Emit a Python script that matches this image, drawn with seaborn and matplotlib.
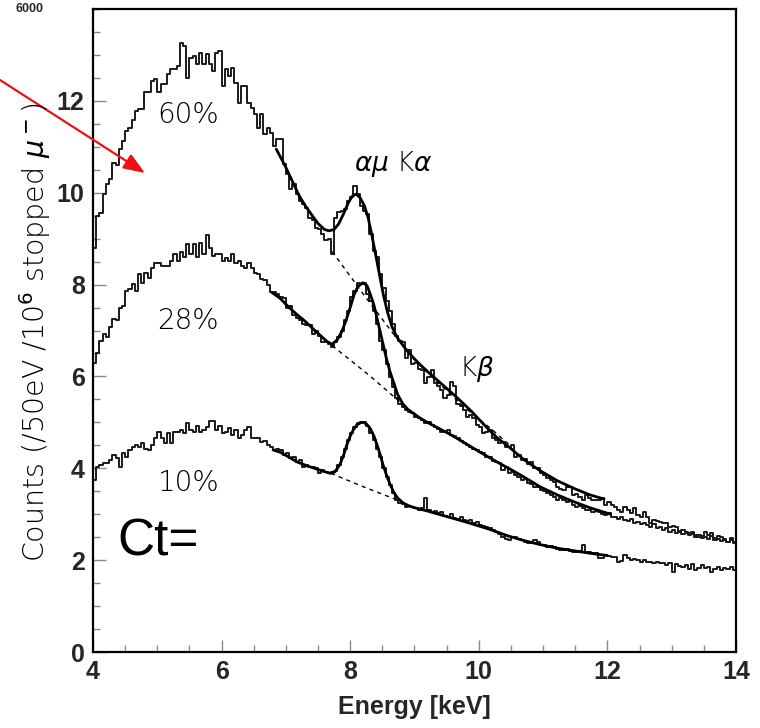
import numpy as np
import pandas as pd
import matplotlib
matplotlib.use("Agg")
import matplotlib.pyplot as plt
import seaborn as sns

# ---------------- data ----------------
BIN_START = 4.0      # keV
BIN_WIDTH = 0.05     # keV (50 eV bins)

h60 = [
    8.8, 9.5, 9.55, 9.98, 10.2, 10.3, 10.65, 10.6, 10.96, 11.13, 11.35, 11.41, 11.59, 11.78, 11.83, 11.83, 12.2, 12.2, 12.43, 12.48,
    12.2, 12.37, 12.37, 12.59, 12.7, 12.7, 12.76, 13.26, 13.2, 12.5, 12.93, 12.98, 12.8, 13.04, 12.8, 13.02, 12.8, 12.65, 13.04, 13.09,
    12.33, 12.7, 12.55, 12.72, 12.39, 11.96, 12.33, 12.33, 11.96, 11.85, 11.72, 11.41, 11.72, 11.28, 11.41, 11.3, 11.02, 11.17, 11.17, 10.63,
    10.41, 10.09, 10.2, 9.98, 9.83, 9.76, 9.67, 9.46, 9.4, 9.24, 9.2, 9.1, 8.96, 9.0, 8.67, 9.46, 9.57, 9.6, 9.65, 9.83,
    9.9, 10.15, 9.98, 9.72, 9.6, 9.54, 9.1, 8.74, 8.59, 8.24, 7.93, 7.65, 7.43, 7.15, 6.89, 6.78, 6.75, 6.41, 6.57, 6.28,
    6.3, 6.17, 6.15, 5.85, 5.98, 6.13, 5.85, 5.8, 5.7, 5.54, 5.6, 5.87, 5.8, 5.41, 5.35, 5.26, 5.11, 5.15, 5.09, 4.95,
    4.89, 4.76, 4.8, 4.83, 4.67, 4.61, 4.54, 4.57, 4.46, 4.46, 4.5, 4.24, 4.3, 4.17, 4.2, 4.1, 4.13, 4.0, 4.0, 3.89,
    3.85, 3.78, 3.74, 3.7, 3.59, 3.55, 3.52, 3.6, 3.59, 3.41, 3.45, 3.37, 3.3, 3.41, 3.35, 3.3, 3.3, 3.3, 3.35, 3.2,
    3.26, 3.2, 3.15, 3.09, 3.04, 3.15, 3.1, 3.02, 3.13, 2.98, 2.93, 3.04, 2.95, 2.8, 2.87, 2.85, 2.83, 2.8, 2.8, 2.72,
    2.75, 2.72, 2.61, 2.65, 2.61, 2.59, 2.62, 2.54, 2.5, 2.52, 2.61, 2.55, 2.59, 2.48, 2.52, 2.5, 2.44, 2.39, 2.48, 2.4,
]

h28 = [
    6.3, 6.52, 6.78, 6.93, 6.85, 7.07, 7.26, 7.22, 7.48, 7.54, 7.87, 7.91, 8.02, 7.87, 8.24, 8.04, 8.26, 8.15, 8.37, 8.46,
    8.46, 8.41, 8.41, 8.41, 8.52, 8.67, 8.52, 8.7, 8.59, 8.89, 8.67, 8.89, 8.6, 8.91, 8.67, 9.07, 8.8, 8.63, 8.67, 8.67,
    8.52, 8.57, 8.52, 8.67, 8.48, 8.52, 8.41, 8.37, 8.48, 8.35, 8.26, 8.24, 8.13, 8.09, 7.98, 7.83, 7.83, 7.8, 7.72, 7.7,
    7.5, 7.54, 7.33, 7.28, 7.22, 7.15, 7.11, 7.11, 6.93, 7.0, 6.89, 6.74, 6.74, 6.7, 6.63, 6.74, 6.85, 7.0, 7.22, 7.43,
    7.72, 7.87, 8.04, 8.02, 8.04, 7.8, 7.65, 7.43, 7.15, 6.78, 6.57, 6.28, 5.98, 5.76, 5.54, 5.41, 5.33, 5.26, 5.22, 5.2,
    5.11, 5.09, 5.05, 4.98, 5.0, 4.95, 4.89, 4.85, 4.78, 4.8, 4.83, 4.72, 4.7, 4.65, 4.6, 4.54, 4.5, 4.46, 4.42, 4.39,
    4.36, 4.33, 4.25, 4.24, 4.15, 4.13, 4.11, 3.96, 4.02, 3.89, 3.92, 3.85, 3.8, 3.74, 3.76, 3.67, 3.65, 3.59, 3.6, 3.52,
    3.5, 3.46, 3.42, 3.38, 3.3, 3.35, 3.3, 3.26, 3.28, 3.2, 3.15, 3.18, 3.13, 3.1, 3.09, 3.04, 3.06, 3.04, 3.0, 2.98,
    3.02, 2.93, 2.95, 2.9, 2.93, 2.88, 2.85, 2.9, 2.8, 2.84, 2.78, 2.8, 2.76, 2.72, 2.78, 2.7, 2.72, 2.66, 2.7, 2.62,
    2.66, 2.6, 2.63, 2.56, 2.6, 2.54, 2.57, 2.5, 2.55, 2.48, 2.5, 2.46, 2.52, 2.44, 2.47, 2.42, 2.46, 2.4, 2.44, 2.38,
]

h10 = [
    3.74, 4.02, 4.07, 4.11, 4.11, 4.17, 4.28, 4.22, 4.02, 4.33, 4.24, 4.39, 4.46, 4.5, 4.46, 4.54, 4.43, 4.39, 4.5, 4.67,
    4.78, 4.67, 4.54, 4.76, 4.54, 4.78, 4.78, 4.83, 4.76, 4.98, 4.83, 4.78, 4.93, 4.78, 4.83, 4.89, 5.04, 5.04, 4.83, 4.93,
    4.76, 4.78, 4.87, 4.72, 4.83, 4.67, 4.72, 4.83, 4.89, 4.67, 4.65, 4.67, 4.57, 4.6, 4.5, 4.46, 4.39, 4.43, 4.39, 4.28,
    4.33, 4.22, 4.25, 4.13, 4.17, 4.02, 4.07, 4.02, 4.02, 4.0, 3.89, 3.96, 3.92, 3.89, 3.91, 3.95, 4.07, 4.24, 4.43, 4.61,
    4.76, 4.89, 4.98, 5.0, 5.0, 4.93, 4.76, 4.61, 4.43, 4.24, 4.0, 3.8, 3.63, 3.46, 3.3, 3.24, 3.22, 3.15, 3.17, 3.15,
    3.13, 3.1, 3.13, 3.35, 3.09, 3.05, 3.07, 3.02, 3.04, 2.97, 2.95, 3.0, 2.92, 2.9, 2.93, 2.87, 2.85, 2.87, 2.8, 2.82,
    2.76, 2.74, 2.72, 2.7, 2.65, 2.61, 2.58, 2.5, 2.46, 2.43, 2.5, 2.5, 2.45, 2.43, 2.4, 2.37, 2.37, 2.43, 2.4, 2.33,
    2.32, 2.28, 2.3, 2.28, 2.25, 2.22, 2.22, 2.25, 2.2, 2.17, 2.17, 2.2, 2.33, 2.17, 2.17, 2.15, 2.15, 2.04, 2.04, 2.12,
    2.1, 2.07, 2.07, 1.96, 1.98, 2.11, 2.05, 2.0, 2.02, 2.0, 1.97, 2.0, 1.95, 1.96, 1.93, 1.96, 1.93, 1.93, 1.9, 1.93,
    1.74, 1.92, 1.88, 1.85, 1.9, 1.8, 1.92, 1.78, 1.83, 1.9, 1.82, 1.85, 1.74, 1.8, 1.85, 1.78, 1.82, 1.8, 1.85, 1.78,
]

# fitted curves (peak + background)
fit60_x = [6.85, 7.0, 7.1, 7.2, 7.3, 7.4, 7.5, 7.6, 7.67, 7.75, 7.82, 7.9, 7.97, 8.03, 8.09, 8.15, 8.22, 8.28,
           8.34, 8.4, 8.46, 8.52, 8.58, 8.65, 8.73, 8.85, 8.98, 9.1, 9.24, 9.37, 9.5, 9.63, 9.76, 9.9, 10.02,
           10.15, 10.28, 10.49, 10.69, 10.95, 11.22, 11.5, 11.73, 11.95]
fit60_y = [10.95, 10.55, 10.25, 9.95, 9.72, 9.52, 9.33, 9.2, 9.17, 9.2, 9.32, 9.55, 9.78, 9.92, 9.97, 9.9, 9.72, 9.45,
           9.05, 8.62, 8.18, 7.75, 7.4, 7.08, 6.85, 6.62, 6.41, 6.24, 6.06, 5.9, 5.74, 5.58, 5.41, 5.22, 5.04,
           4.85, 4.67, 4.44, 4.2, 3.95, 3.73, 3.55, 3.42, 3.33]

fit28_x = [6.78, 6.91, 7.05, 7.17, 7.3, 7.42, 7.53, 7.64, 7.72, 7.8, 7.87, 7.93, 8.0, 8.06, 8.12, 8.2, 8.26, 8.31,
           8.37, 8.42, 8.47, 8.52, 8.57, 8.62, 8.68, 8.74, 8.82, 8.9, 8.98, 9.1, 9.24, 9.5, 9.76, 10.02, 10.28,
           10.49, 10.69, 10.95, 11.22, 11.5, 11.73, 12.05]
fit28_y = [7.83, 7.7, 7.5, 7.35, 7.2, 7.04, 6.9, 6.76, 6.7, 6.8, 6.98, 7.2, 7.5, 7.78, 7.96, 8.04, 7.98, 7.8,
           7.55, 7.25, 6.95, 6.65, 6.35, 6.1, 5.85, 5.6, 5.4, 5.28, 5.2, 5.08, 4.97, 4.78, 4.57, 4.35, 4.14,
           3.98, 3.82, 3.6, 3.42, 3.26, 3.14, 3.0]

fit10_x = [6.8, 6.91, 7.05, 7.17, 7.3, 7.42, 7.55, 7.69, 7.76, 7.84, 7.9, 7.95, 8.0, 8.05, 8.1, 8.16, 8.2, 8.25,
           8.31, 8.37, 8.42, 8.47, 8.51, 8.56, 8.62, 8.68, 8.74, 8.82, 8.9, 8.98, 9.2, 9.5, 9.8, 10.17, 10.45,
           10.69, 10.95, 11.22, 11.5, 11.73, 12.0]
fit10_y = [4.4, 4.35, 4.24, 4.14, 4.07, 4.01, 3.95, 3.89, 3.92, 4.08, 4.3, 4.52, 4.7, 4.84, 4.94, 4.99, 5.0, 4.97,
           4.87, 4.7, 4.5, 4.28, 4.08, 3.87, 3.65, 3.47, 3.35, 3.25, 3.19, 3.15, 3.07, 2.95, 2.83, 2.67, 2.53,
           2.43, 2.34, 2.26, 2.2, 2.15, 2.1]

# background under the peaks (dashed)
bg60_x = [7.72, 8.2, 8.67, 9.0, 9.4, 9.8, 10.2, 10.5]
bg60_y = [8.72, 7.8, 6.93, 6.36, 5.82, 5.3, 4.85, 4.48]
bg28_x = [7.72, 8.3, 8.85]
bg28_y = [6.67, 6.02, 5.35]
bg10_x = [7.7, 8.2, 8.75]
bg10_y = [3.89, 3.6, 3.3]

labels = ["60%", "28%", "10%"]
label_pos = [(5.48, 11.7), (5.48, 7.2), (5.49, 3.67)]

# ---------------- figure ----------------
sns.set_style("white")
plt.rcParams["font.family"] = ["DejaVu Sans"]

W, H = 760, 728
fig = plt.figure(figsize=(W / 100, H / 100), dpi=100)
ax = fig.add_axes([93 / W, 1 - 652 / H, (736 - 93) / W, (652 - 9) / H])

def hist_frame(vals):
    n = len(vals)
    edges = BIN_START + BIN_WIDTH * np.arange(n + 1)
    return pd.DataFrame({"E": edges, "c": list(vals) + [vals[-1]]})

for vals in (h60, h28, h10):
    sns.lineplot(data=hist_frame(vals), x="E", y="c", ax=ax, color="#1a1a1a",
                 lw=1.4, drawstyle="steps-post", estimator=None, legend=False)

for fx, fy in ((fit60_x, fit60_y), (fit28_x, fit28_y), (fit10_x, fit10_y)):
    sns.lineplot(x=fx, y=fy, ax=ax, color="black", lw=2.0, estimator=None, sort=False, legend=False)

for bx, by in ((bg60_x, bg60_y), (bg28_x, bg28_y), (bg10_x, bg10_y)):
    sns.lineplot(x=bx, y=by, ax=ax, color="black", lw=1.0, estimator=None, sort=False,
                 legend=False, linestyle=(0, (3, 3)))

ax.set_xlim(4, 14)
ax.set_ylim(0, 14)
ax.set_xticks(np.arange(4, 15, 2))
ax.set_xticks(np.arange(4, 14.01, 0.5), minor=True)
ax.set_yticks(np.arange(0, 13, 2))
ax.set_yticks(np.arange(0, 14.01, 0.5), minor=True)
ax.tick_params(which="both", direction="in", color="#888888", width=1,
               top=False, right=False, bottom=True, left=True)
ax.tick_params(which="major", length=9, pad=6)
ax.tick_params(which="minor", length=5)
tick_font = dict(family=["Liberation Sans", "DejaVu Sans"], weight="bold", size=18)
ax.set_xticklabels([f"{int(v)}" for v in np.arange(4, 15, 2)], fontdict=tick_font)
ax.set_yticklabels([f"{int(v)}" for v in np.arange(0, 13, 2)], fontdict=tick_font)
for s in ax.spines.values():
    s.set_visible(True)
    s.set_color("black")
    s.set_linewidth(1.6)

ax.set_xlabel("Energy [keV]", fontsize=18, fontweight="bold",
              family=["Liberation Sans", "DejaVu Sans"], labelpad=8)
ax.set_ylabel("")

fig.text(35 / W, 1 - 562 / H, r"Counts (/50eV /10$^6$ stopped $\mu^-$)", rotation=90,
         ha="center", va="bottom", fontsize=20.5, fontweight="light", color="black")

for t, (x, y) in zip(labels, label_pos):
    ax.text(x, y, t, ha="center", va="center", fontsize=20, fontweight="light", color="black")
ax.text(8.67, 10.63, r"$\alpha\mu$ K$\alpha$", ha="center", va="center", fontsize=19,
        fontweight="light", color="black")
ax.text(9.97, 6.17, r"K$\beta$", ha="center", va="center", fontsize=19,
        fontweight="light", color="black")

fig.text(117 / W, 1 - 555 / H, "Ct=", ha="left", va="baseline", fontsize=37,
         family=["Liberation Sans", "DejaVu Sans"], color="black")
fig.text(15 / W, 1 - 3 / H, "6000", ha="left", va="top", fontsize=9, fontweight="bold",
         family=["Liberation Sans", "DejaVu Sans"])

ax.annotate("", xy=(145, H - 173), xytext=(0, H - 80), xycoords="figure pixels",
            textcoords="figure pixels",
            arrowprops=dict(arrowstyle="-|>,head_length=0.65,head_width=0.25", color="#ee1111",
                            lw=1.6, mutation_scale=20, shrinkA=0, shrinkB=0),
            annotation_clip=False)

fig.savefig("out.png", dpi=100)
